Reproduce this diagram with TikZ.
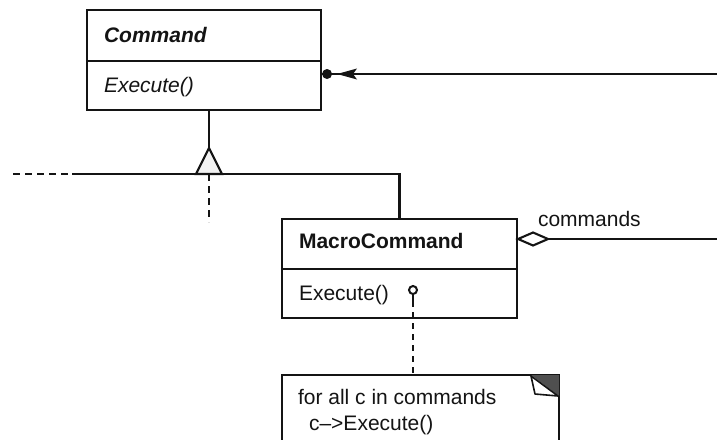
\documentclass[tikz,border=0pt]{standalone}
\usepackage{fontspec}
\setmainfont{Liberation Sans}
\usetikzlibrary{calc}
\definecolor{ink}{HTML}{141414}
\begin{document}
\begin{tikzpicture}[x=1pt,y=-1pt,
  line width=2.1pt, draw=ink,
  classbox/.style={draw=ink, line width=2.1pt, inner sep=0pt, fill=white},
  txt/.style={anchor=base west, inner sep=0pt, text=ink,
              font=\fontsize{21}{25}\selectfont},
  dashline/.style={dash pattern=on 7pt off 5pt, line width=2.1pt}]

% canvas
\path[use as bounding box, clip] (0,0) rectangle (717,439);
\fill[white] (0,0) rectangle (717,439);

% Command class
\node[classbox, minimum width=234pt, minimum height=100pt] (cmd) at (204,60) {};
\draw (cmd.west |- 0,61) -- (cmd.east |- 0,61);
\node[txt, font=\fontsize{21}{25}\selectfont\bfseries\itshape] (cmdName) at (103,42) {Command};
\node[txt, font=\fontsize{21}{25}\selectfont\itshape] (cmdOp) at (103,92) {Execute()};

% MacroCommand class
\node[classbox, minimum width=235pt, minimum height=99pt] (mc) at (399.5,268.5) {};
\draw (mc.west |- 0,269) -- (mc.east |- 0,269);
\node[txt, font=\fontsize{21}{25}\selectfont\bfseries] (mcName) at (298,248) {MacroCommand};
\node[txt] (mcOp) at (298,300) {Execute()};

% note attached to MacroCommand::Execute
\node[classbox, minimum width=277pt, minimum height=110pt] (note) at (420.5,430) {};
\fill[ink!75] (531,375) -- (559,375) -- (559,396) -- cycle;
\draw[line width=1.6pt, fill=white, line join=round] (531,376) -- (535,394) -- (558,396) -- cycle;
\node[txt] (noteL1) at (297,404) {for all c in commands};
\node[txt] (noteL2) at (308,430) {c\textendash>Execute()};

% implementation pin
\coordinate (pin) at (413,290);
\draw[line width=2pt] (pin) circle (4pt);
\coordinate (pinFoot) at (413,301);
\draw ($(pin)+(0,4)$) -- (pinFoot);
\draw[dash pattern=on 6pt off 5pt] (pinFoot) -- (note.north -| pin);

% generalization
\coordinate (genTip) at (209,148);
\coordinate (genL) at (196,174);
\coordinate (genR) at (222,174);
\coordinate (barL) at (72,174);
\coordinate (barFar) at (13,174);
\coordinate (subFree) at (209,222);
\draw (genTip |- cmd.south) -- (genTip);
\draw (barL) -- (mc.north |- barL) -- (mc.north);
\draw[dashline] (barFar) -- (barL);
\draw[dashline] (genTip |- barL) -- (subFree);
\draw[fill=gray!10, line join=miter] (genTip) -- (genL) -- (genR) -- cycle;

% association from the right into Command
\coordinate (invFar) at (717,74);
\coordinate (invEnd) at (cmd.east |- invFar);
\draw (invFar) -- (invEnd);
\fill[ink] (337,74) -- (357,68.5) -- (353,74) -- (357,79.5) -- cycle;
\fill[ink] ($(invEnd)+(5,0)$) circle (5pt);

% aggregation "commands"
\coordinate (aggBase) at (mc.east |- 0,239);
\coordinate (aggFar) at (717,239);
\draw[fill=white, line join=miter] (aggBase) -- ++(15,-6.5) -- ++(15,6.5) coordinate (aggTip) -- ++(-15,6.5) -- cycle;
\draw (aggTip) -- (aggFar);
\node[txt] (aggLbl) at (537,226) {commands};
\end{tikzpicture}
\end{document}
